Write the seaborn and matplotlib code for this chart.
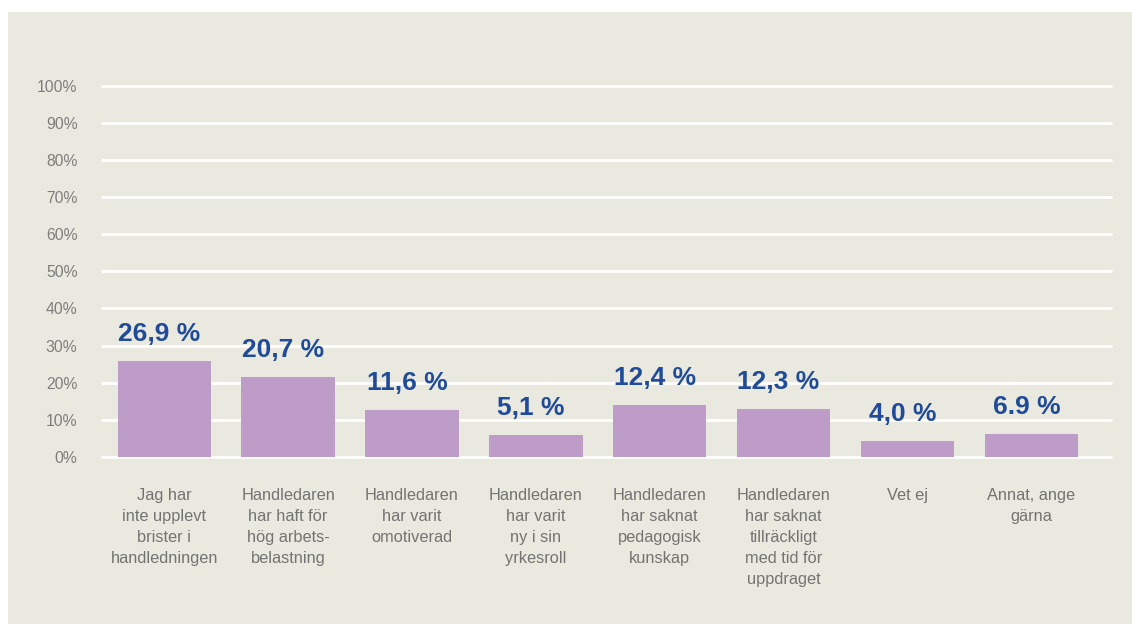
import matplotlib
matplotlib.use("Agg")
import matplotlib.pyplot as plt
from matplotlib.patches import Rectangle
import seaborn as sns
import pandas as pd

categories = [
    "Jag har\ninte upplevt\nbrister i\nhandledningen",
    "Handledaren\nhar haft för\nhög arbets-\nbelastning",
    "Handledaren\nhar varit\nomotiverad",
    "Handledaren\nhar varit\nny i sin\nyrkesroll",
    "Handledaren\nhar saknat\npedagogisk\nkunskap",
    "Handledaren\nhar saknat\ntillräckligt\nmed tid för\nuppdraget",
    "Vet ej",
    "Annat, ange\ngärna",
]
bar_values = [25.8, 21.5, 12.6, 5.85, 14.0, 12.9, 4.3, 6.2]
value_labels = ["26,9 %", "20,7 %", "11,6 %", "5,1 %", "12,4 %", "12,3 %", "4,0 %", "6.9 %"]
y_ticks = [0, 10, 20, 30, 40, 50, 60, 70, 80, 90, 100]

BG = "#EAE9DF"
BAR = "#BD9CC8"
BLUE = "#1F4B99"
GRAY = "#7D7D7D"

sns.set_theme(style="white")
plt.rcParams["font.family"] = ["Liberation Sans", "DejaVu Sans"]

fig = plt.figure(figsize=(11.32, 6.24), dpi=100)
fig.patch.set_facecolor("white")
fig.patches.append(Rectangle((8 / 1132, 0), 1 - 8 / 1132, (624 - 12) / 624,
                             transform=fig.transFigure, facecolor=BG,
                             edgecolor="none", zorder=-10))

ax = fig.add_axes([101.7 / 1132, (624 - 457) / 624, (1111 - 101.7) / 1132, (457 - 85.7) / 624])
ax.set_facecolor(BG)
ax.patch.set_alpha(0)

df = pd.DataFrame({"cat": categories, "val": bar_values})
sns.barplot(data=df, x="cat", y="val", color=BAR, width=0.753, saturation=1,
            edgecolor="none", linewidth=0, ax=ax, zorder=3)

ax.set_ylim(0, 100)
ax.set_xlim(-0.505, 7.643)
ax.set_yticks(y_ticks)
ax.set_yticklabels([f"{t}%" for t in y_ticks])
ax.set_axisbelow(True)
ax.yaxis.grid(True, color="white", linewidth=2)
for gl in ax.get_ygridlines():
    gl.set_clip_on(False)
ax.xaxis.grid(False)
for s in ax.spines.values():
    s.set_visible(False)

ax.tick_params(axis="y", length=0, pad=17.5, labelsize=11.3, labelcolor=GRAY)
ax.tick_params(axis="x", length=0, pad=22, labelsize=11.8, labelcolor="#737373")
ax.set_xticks(range(len(categories)))
ax.set_xticklabels(categories, linespacing=1.5, va="top", ha="center")
ax.set_xlabel("")
ax.set_ylabel("")

for i, (v, lab) in enumerate(zip(bar_values, value_labels)):
    ax.annotate(lab, xy=(i, v), xytext=(-3.6, 14.6), textcoords="offset points",
                ha="center", va="baseline", fontsize=19, fontweight="bold",
                color=BLUE, zorder=5)

fig.savefig("out.png", dpi=100, facecolor=fig.get_facecolor())
